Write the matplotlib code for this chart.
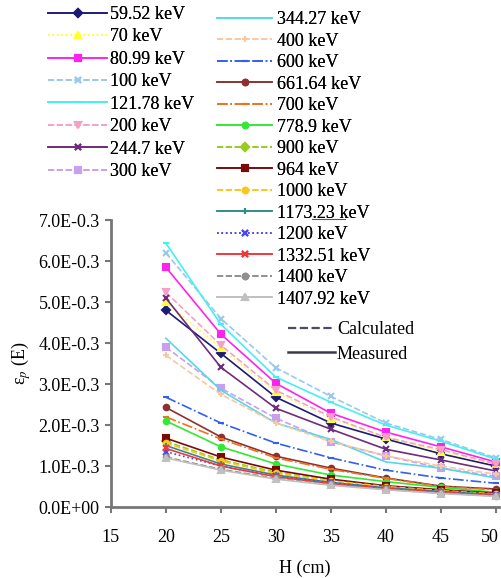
import numpy as np
import matplotlib.pyplot as plt
from matplotlib.lines import Line2D
from matplotlib.transforms import ScaledTranslation

plt.rcParams['font.family'] = ['Liberation Serif', 'DejaVu Serif']
plt.rcParams['mathtext.fontset'] = 'stix'

H = [20, 25, 30, 35, 40, 45, 50]

energias = ['59.52 keV', '70 keV', '80.99 keV', '100 keV', '121.78 keV', '200 keV',
            '244.7 keV', '300 keV', '344.27 keV', '400 keV', '600 keV', '661.64 keV',
            '700 keV', '778.9 keV', '900 keV', '964 keV', '1000 keV', '1173.23 keV',
            '1200 keV', '1332.51 keV', '1400 keV', '1407.92 keV']

# eficiencia (x1e-3) para cada energia
e_59 = [4.80, 3.75, 2.68, 2.05, 1.66, 1.30, 1.00]
e_70 = [5.00, 3.88, 2.80, 2.15, 1.72, 1.34, 1.05]
e_81 = [5.85, 4.22, 3.02, 2.29, 1.83, 1.47, 1.10]
e_100 = [6.20, 4.60, 3.40, 2.70, 2.05, 1.65, 1.20]
e_122 = [6.44, 4.46, 3.17, 2.56, 2.00, 1.61, 1.17]
e_200 = [5.24, 3.95, 2.85, 2.20, 1.70, 1.40, 1.05]
e_245 = [5.10, 3.41, 2.41, 1.90, 1.41, 1.15, 0.88]
e_300 = [3.90, 2.90, 2.17, 1.59, 1.25, 0.95, 0.75]
e_344 = [4.12, 2.85, 2.05, 1.65, 1.10, 0.95, 0.71]
e_400 = [3.70, 2.75, 2.05, 1.60, 1.25, 1.00, 0.80]
e_600 = [2.68, 2.05, 1.56, 1.20, 0.90, 0.71, 0.58]
e_662 = [2.43, 1.71, 1.24, 0.95, 0.71, 0.51, 0.44]
e_700 = [2.20, 1.66, 1.20, 0.92, 0.70, 0.50, 0.42]
e_779 = [2.10, 1.47, 1.05, 0.78, 0.62, 0.48, 0.36]
e_900 = [1.60, 1.15, 0.85, 0.66, 0.50, 0.42, 0.33]
e_964 = [1.68, 1.22, 0.90, 0.68, 0.52, 0.42, 0.34]
e_1000 = [1.56, 1.12, 0.82, 0.64, 0.50, 0.40, 0.32]
e_1173 = [1.50, 1.05, 0.78, 0.60, 0.47, 0.38, 0.30]
e_1200 = [1.35, 1.00, 0.75, 0.60, 0.46, 0.37, 0.30]
e_1333 = [1.43, 1.00, 0.74, 0.57, 0.45, 0.36, 0.28]
e_1400 = [1.22, 0.92, 0.70, 0.55, 0.43, 0.34, 0.27]
e_1408 = [1.20, 0.90, 0.68, 0.53, 0.42, 0.33, 0.26]

dados = [e_59, e_70, e_81, e_100, e_122, e_200, e_245, e_300, e_344, e_400, e_600,
         e_662, e_700, e_779, e_900, e_964, e_1000, e_1173, e_1200, e_1333, e_1400, e_1408]

cores = ['#1c1c74', '#ffff33', '#ff22ee', '#99c8f0', '#44f0f0', '#f4a0c8',
         '#6e2c7a', '#c8a0f0', '#55d8e8', '#f8c8a0', '#3060f0', '#8e3030',
         '#f07020', '#33e833', '#99cc22', '#7a0a0a', '#f8c820', '#338c8c',
         '#4848f0', '#f03838', '#909090', '#c0c0c0']
estilos = ['-', ':', '-', '--', '-', '--', '-', '--', '-', '--', '-.', '-',
           '-.', '-', '--', '-', '--', '-', ':', '-', '--', '-']
marcadores = ['D', '^', 's', 'x', '_', 'v', 'x', 's', '', '+', '_', 'o',
              '_', 'o', 'D', 's', 'o', '+', 'x', 'x', 'o', '^']

fig = plt.figure(figsize=(5.02, 5.78), dpi=100)
ax = fig.add_axes([0.221, 0.1228, 0.773, 0.4962])

linhas = []
for nome, y, c, ls, mk in zip(energias, dados, cores, estilos, marcadores):
    l, = ax.plot(H, np.array(y) * 1e-3, color=c, ls=ls, lw=1.2, marker=mk,
                 markersize=4, mew=1.5, label=nome)
    linhas.append(l)

ax.set_xlim(15, 50.3)
ax.set_ylim(0, 7e-3)
ax.set_xticks([15, 20, 25, 30, 35, 40, 45, 50])
ax.set_yticks(np.arange(0, 8) * 1e-3)
ax.set_yticklabels(['0.0E+00'] + [f'{k}.0E-0.3' for k in range(1, 8)])
ax.tick_params(labelsize=13, length=4, width=1.5, color='#777777', pad=4)
ax.tick_params(axis='x', pad=11.5)
for lado in ['top', 'right']:
    ax.spines[lado].set_visible(False)
for lado in ['left', 'bottom']:
    ax.spines[lado].set_color('#777777')
    ax.spines[lado].set_linewidth(2)

# ultimo rotulo deslocado para caber na figura
ult = ax.get_xticklabels()[-1]
ult.set_transform(ult.get_transform() + ScaledTranslation(-0.06, 0, fig.dpi_scale_trans))

ax.set_xlabel('H (cm)', fontsize=13, labelpad=10)
ax.set_ylabel(r'ε$_p$ (E)', fontsize=13, labelpad=4)

leg1 = fig.legend(handles=linhas[:8], loc='upper left', bbox_to_anchor=(48 / 502, 1 - 6 / 578),
                  frameon=False, fontsize=13, borderpad=0, borderaxespad=0,
                  handlelength=3.27, handletextpad=0.17, labelspacing=0.3)
leg2 = fig.legend(handles=linhas[8:], loc='upper left', bbox_to_anchor=(217 / 502, 1 - 11 / 578),
                  frameon=False, fontsize=13, borderpad=0, borderaxespad=0,
                  handlelength=3.05, handletextpad=0.28, labelspacing=0.25)
fig.add_artist(leg1)
fig.add_artist(leg2)

tipo = [Line2D([], [], color='#4a4a6a', ls='--', lw=1.6),
        Line2D([], [], color='#3a3a4a', ls='-', lw=1.8)]
fig.legend(tipo, ['Calculated', 'Measured'], loc='upper left',
           bbox_to_anchor=(288 / 502, 1 - 321 / 578), frameon=False, fontsize=13,
           borderpad=0, borderaxespad=0, handlelength=2.6, handletextpad=0.1,
           labelspacing=0.42)

# traco sob "1173.23 keV" presente na figura original
fig.add_artist(Line2D([312 / 502, 345 / 502], [1 - 219 / 578, 1 - 219 / 578],
                      color='#555555', lw=0.8))

plt.savefig('out.png', dpi=100)
